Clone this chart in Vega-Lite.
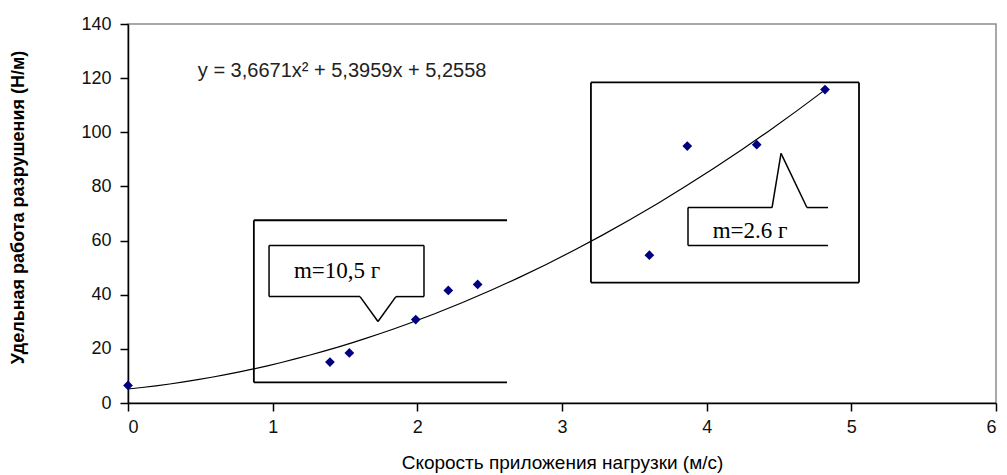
{
  "$schema": "https://vega.github.io/schema/vega-lite/v6.json",
  "width": 868,
  "height": 379,
  "autosize": {"type": "none"},
  "padding": {"left": 128, "top": 24, "right": 11, "bottom": 72},
  "background": "white",
  "config": {
    "view": {"stroke": "#8c8c8c", "strokeWidth": 1.5},
    "font": "Arial",
    "axis": {
      "domainColor": "#000000",
      "domainWidth": 1.5,
      "tickColor": "#000000",
      "tickWidth": 1.5,
      "tickSize": 8,
      "grid": false,
      "labelFont": "Arial",
      "labelColor": "#111111",
      "titleFont": "Arial",
      "titleColor": "#000000"
    }
  },
  "datasets": {
    "points": [
      {"x": 0.0, "y": 6.5},
      {"x": 1.396, "y": 15.1},
      {"x": 1.53, "y": 18.5},
      {"x": 1.989, "y": 30.8},
      {"x": 2.214, "y": 41.6},
      {"x": 2.417, "y": 43.8},
      {"x": 3.604, "y": 54.6},
      {"x": 3.866, "y": 94.9},
      {"x": 4.346, "y": 95.4},
      {"x": 4.818, "y": 115.8}
    ],
    "frames": [
      {"x": 0.87, "y": 67.5, "x2": 2.62, "y2": 67.5},
      {"x": 0.87, "y": 67.5, "x2": 0.87, "y2": 7.6},
      {"x": 0.87, "y": 7.6, "x2": 2.62, "y2": 7.6},
      {"x": 3.2, "y": 118.4, "x2": 5.053, "y2": 118.4},
      {"x": 5.053, "y": 118.4, "x2": 5.053, "y2": 44.5},
      {"x": 5.053, "y": 44.5, "x2": 3.2, "y2": 44.5},
      {"x": 3.2, "y": 44.5, "x2": 3.2, "y2": 118.4}
    ],
    "callouts": [
      {"x": 0.975, "y": 58.2, "x2": 2.046, "y2": 58.2},
      {"x": 2.046, "y": 58.2, "x2": 2.046, "y2": 39.3},
      {"x": 2.046, "y": 39.3, "x2": 1.852, "y2": 39.3},
      {"x": 1.852, "y": 39.3, "x2": 1.728, "y2": 30.1},
      {"x": 1.728, "y": 30.1, "x2": 1.604, "y2": 39.3},
      {"x": 1.604, "y": 39.3, "x2": 0.975, "y2": 39.3},
      {"x": 0.975, "y": 39.3, "x2": 0.975, "y2": 58.2},
      {"x": 4.839, "y": 72.2, "x2": 4.693, "y2": 72.2},
      {"x": 4.693, "y": 72.2, "x2": 4.514, "y2": 92.2},
      {"x": 4.514, "y": 92.2, "x2": 4.452, "y2": 72.2},
      {"x": 4.452, "y": 72.2, "x2": 3.871, "y2": 72.2},
      {"x": 3.871, "y": 72.2, "x2": 3.871, "y2": 58.2},
      {"x": 3.871, "y": 58.2, "x2": 4.839, "y2": 58.2}
    ],
    "labels": [
      {"x": 1.445, "y": 48.9, "text": "m=10,5 г"},
      {"x": 4.3, "y": 63.4, "text": "m=2.6 г"}
    ],
    "equation": [
      {"x": 1.48, "y": 122.5, "text": "y = 3,6671x² + 5,3959x + 5,2558"}
    ]
  },
  "layer": [
    {
      "data": {"name": "frames"},
      "mark": {"type": "rule", "color": "#000000", "strokeWidth": 1.8},
      "encoding": {
        "x": {"field": "x", "type": "quantitative", "scale": {"domain": [0, 6], "nice": false},
          "axis": {"values": [0, 1, 2, 3, 4, 5, 6], "format": "d", "title": "Скорость приложения нагрузки (м/с)",
            "labelFontSize": 18, "titleFontSize": 19, "titleFontWeight": "normal", "titleY": 59, "titleBaseline": "middle",
            "labelPadding": 7}},
        "y": {"field": "y", "type": "quantitative", "scale": {"domain": [0, 140], "nice": false},
          "axis": {"values": [0, 20, 40, 60, 80, 100, 120, 140], "format": "d", "title": "Удельная работа разрушения   (Н/м)",
            "labelFontSize": 18, "titleFontSize": 18, "titleFontWeight": "bold", "titleX": -110, "titleY": 183,
            "titleAngle": -90, "titleBaseline": "middle", "titleAlign": "center", "labelPadding": 9}},
        "x2": {"field": "x2"},
        "y2": {"field": "y2"}
      }
    },
    {
      "data": {"name": "callouts"},
      "mark": {"type": "rule", "color": "#000000", "strokeWidth": 1.5},
      "encoding": {
        "x": {"field": "x", "type": "quantitative"},
        "y": {"field": "y", "type": "quantitative"},
        "x2": {"field": "x2"},
        "y2": {"field": "y2"}
      }
    },
    {
      "data": {"name": "points"},
      "transform": [{"regression": "y", "on": "x", "method": "poly", "order": 2}],
      "mark": {"type": "line", "color": "#000000", "strokeWidth": 1.2},
      "encoding": {
        "x": {"field": "x", "type": "quantitative"},
        "y": {"field": "y", "type": "quantitative"}
      }
    },
    {
      "data": {"name": "points"},
      "mark": {"type": "point", "shape": "diamond", "filled": true, "color": "#000080", "size": 95, "opacity": 1},
      "encoding": {
        "x": {"field": "x", "type": "quantitative"},
        "y": {"field": "y", "type": "quantitative"}
      }
    },
    {
      "data": {"name": "labels"},
      "mark": {"type": "text", "font": "Liberation Serif", "fontSize": 23, "color": "#000000", "align": "center", "baseline": "middle"},
      "encoding": {
        "x": {"field": "x", "type": "quantitative"},
        "y": {"field": "y", "type": "quantitative"},
        "text": {"field": "text"}
      }
    },
    {
      "data": {"name": "equation"},
      "mark": {"type": "text", "font": "Arial", "fontSize": 20, "color": "#222222", "align": "center", "baseline": "middle"},
      "encoding": {
        "x": {"field": "x", "type": "quantitative"},
        "y": {"field": "y", "type": "quantitative"},
        "text": {"field": "text"}
      }
    }
  ]
}
